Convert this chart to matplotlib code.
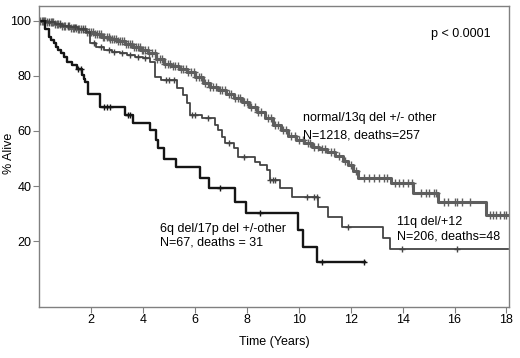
"""
Curvas de supervivencia (Kaplan-Meier) por grupo citogenético
"""
import numpy as np
import matplotlib
matplotlib.use("Agg")
import matplotlib.pyplot as plt

plt.rcParams['font.family'] = ['Liberation Sans', 'DejaVu Sans']

# normal/13q del +/- other (N=1218)
t_normal = [0, 0.3, 0.6, 0.9, 1.2, 1.5, 1.8, 2.1, 2.4, 2.7, 3.0, 3.3, 3.6, 3.9,
            4.2, 4.5, 4.8, 5.1, 5.4, 5.7, 6.0, 6.3, 6.6, 6.9, 7.2, 7.5, 7.8,
            8.1, 8.4, 8.7, 9.0, 9.3, 9.6, 9.9, 10.2, 10.5, 10.8, 11.1, 11.4,
            11.7, 11.9, 12.1, 12.3, 13.55, 14.41, 15.37, 17.23, 18.06]
s_normal = [100, 99.5, 98.8, 98.2, 97.6, 96.9, 96.0, 95.2, 94.3, 93.4, 92.6,
            91.6, 90.7, 89.6, 88.3, 86.3, 84.2, 83.6, 82.6, 81.3, 79.6, 77.4,
            76.0, 74.8, 73.3, 72.0, 70.5, 68.8, 67.0, 64.6, 62.2, 60.2, 58.0,
            56.7, 55.5, 54.2, 53.3, 52.2, 51.0, 49.0, 47.5, 45.5, 42.8, 41.0,
            37.3, 34.3, 29.5, 29.5]
c_normal = [0.05, 0.1, 0.15, 0.2, 0.25, 0.32, 0.38, 0.45, 0.5, 0.55, 0.62, 0.7,
            0.75, 0.82, 0.9, 0.95, 1.02, 1.1, 1.15, 1.22, 1.3, 1.35, 1.42, 1.5,
            1.55, 1.62, 1.7, 1.78, 1.85, 1.92, 2.0, 2.08, 2.15, 2.22, 2.3, 2.38,
            2.45, 2.52, 2.6, 2.68, 2.75, 2.82, 2.9, 2.98, 3.05, 3.12, 3.2, 3.28,
            3.35, 3.42, 3.5, 3.58, 3.65, 3.72, 3.8, 3.88, 3.95, 4.02, 4.1, 4.18,
            4.25, 4.35, 4.45, 4.55, 4.65, 4.75, 4.85, 4.95, 5.05, 5.15, 5.25,
            5.35, 5.45, 5.55, 5.65, 5.75, 5.85, 5.95, 6.05, 6.15, 6.25, 6.4, 6.5,
            6.6, 6.7, 6.8, 6.95, 7.05, 7.15, 7.3, 7.4, 7.55, 7.65, 7.75, 7.9, 8.0,
            8.15, 8.3, 8.45, 8.55, 8.8, 8.95, 9.1, 9.2, 9.4, 9.5, 9.7, 9.85, 10.0,
            10.15, 10.35, 10.45, 10.6, 10.75, 10.9, 11.0, 11.25, 11.35, 11.55,
            11.8, 12.0, 12.2, 12.5, 12.7, 12.9, 13.1, 13.3, 13.4, 13.7, 13.85,
            14.0, 14.2, 14.35, 14.7, 14.9, 15.0, 15.2, 15.3, 15.6, 15.75, 16.0,
            16.1, 16.3, 16.6, 17.35, 17.5, 17.6, 17.75, 17.9, 18.0]

# 11q del/+12 (N=206)
t_11q = [0, 0.3, 0.6, 0.9, 1.2, 1.5, 1.8, 1.97, 2.2, 2.5, 2.8, 3.1, 3.4, 3.7,
         4.0, 4.28, 4.45, 4.7, 5.31, 5.56, 5.69, 5.82, 6.27, 6.78, 6.91, 7.04,
         7.17, 7.49, 7.68, 8.32, 8.5, 8.77, 8.9, 9.28, 9.73, 10.75, 11.14,
         11.65, 13.25, 13.51, 18.06]
s_11q = [100, 99.5, 99.0, 98.3, 97.7, 97.0, 96.0, 92.0, 90.5, 89.4, 88.8, 88.2,
         87.6, 87.0, 86.4, 85.1, 79.5, 78.5, 75.5, 73.0, 70.0, 65.8, 64.6, 62.1,
         60.3, 57.9, 55.5, 53.7, 50.6, 48.8, 47.6, 45.8, 42.2, 39.1, 36.1, 32.5,
         28.8, 25.2, 21.0, 17.0, 17.0]
c_11q = [0.4, 0.8, 1.1, 1.4, 1.7, 2.1, 2.4, 2.7, 2.9, 3.2, 3.5, 3.8, 4.1, 4.9,
         5.0, 5.2, 5.9, 6.0, 6.5, 7.3, 7.9, 8.9, 9.0, 9.1, 10.3, 10.6, 10.7,
         11.9, 13.96, 16.08]

# 6q del/17p del +/-other (N=67)
t_6q = [0, 0.24, 0.37, 0.47, 0.56, 0.66, 0.75, 0.85, 0.95, 1.08, 1.27, 1.46,
        1.65, 1.72, 1.78, 1.87, 2.36, 3.31, 3.63, 4.27, 4.52, 4.58, 4.82, 5.29,
        6.2, 6.56, 7.55, 7.97, 9.98, 10.18, 10.69, 12.55]
s_6q = [100, 97.0, 94.2, 93.0, 92.0, 90.7, 89.4, 88.2, 86.9, 85.1, 84.0, 82.7,
        80.3, 79.0, 77.9, 73.3, 68.8, 65.8, 63.0, 60.3, 56.7, 53.7, 50.0, 47.0,
        42.8, 39.1, 34.3, 30.3, 24.0, 17.9, 12.5, 12.5]
c_6q = [1.5, 1.6, 2.5, 2.6, 2.75, 3.43, 3.5, 6.98, 8.5, 10.9, 12.5]


def valor_en(t, s, c):
    """Supervivencia de la curva escalonada en los tiempos censurados."""
    idx = np.searchsorted(t, c, side='right') - 1
    return np.array(s)[idx]


fig = plt.figure(figsize=(5.2, 3.58), dpi=100)
ax = fig.add_axes([0.075, 0.143, 0.904, 0.84])

curvas = [
    (t_normal, s_normal, c_normal, '#5e5e5e', 2.2, 5.5),
    (t_11q, s_11q, c_11q, '#444444', 1.3, 5),
    (t_6q, s_6q, c_6q, '#151515', 1.7, 5),
]
for t, s, c, color, lw, ms in curvas:
    ax.step(t, s, where='post', color=color, lw=lw)
    ax.plot(c, valor_en(t, s, c), ls='none', marker='+', color=color,
            ms=ms, mew=1.0)

ax.set_xlim(0, 18.1)
ax.set_ylim(-3.9, 105.4)
ax.set_xticks([2, 4, 6, 8, 10, 12, 14, 16, 18])
ax.set_yticks([20, 40, 60, 80, 100])
ax.tick_params(direction='out', length=4, width=0.8, colors='#808080',
               labelcolor='black', labelsize=9, pad=1.5)
for sp in ax.spines.values():
    sp.set_color('#808080')
    sp.set_linewidth(1.0)

ax.set_xlabel('Time (Years)', fontsize=9, labelpad=7)
ax.set_ylabel('% Alive', fontsize=9)
ax.yaxis.set_label_coords(-0.05, 0.51)

fs = 9
ax.text(15.1, 95.4, 'p < 0.0001', fontsize=fs, va='center')
ax.text(10.18, 64.6, 'normal/13q del +/- other', fontsize=fs, va='center')
ax.text(10.18, 58.5, 'N=1218, deaths=257', fontsize=fs, va='center')
ax.text(13.79, 27.0, '11q del/+12', fontsize=fs, va='center')
ax.text(13.79, 21.6, 'N=206, deaths=48', fontsize=fs, va='center')
ax.text(4.67, 24.4, '6q del/17p del +/-other', fontsize=fs, va='center')
ax.text(4.67, 19.5, 'N=67, deaths = 31', fontsize=fs, va='center')

fig.savefig('out.png', dpi=100)
